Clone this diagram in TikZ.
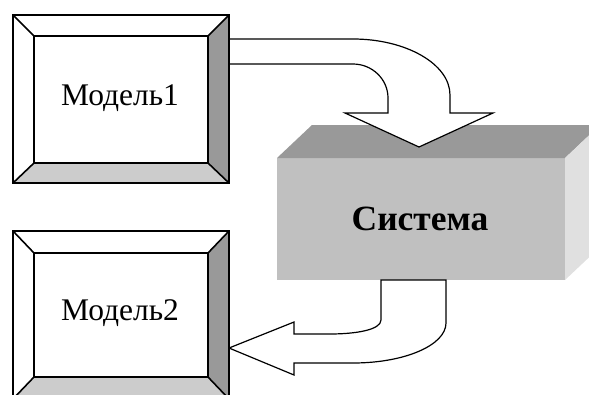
\documentclass[tikz,border=0pt]{standalone}
\usepackage{fontspec}
\setmainfont{Liberation Serif}
\definecolor{gA}{HTML}{999999}
\definecolor{gB}{HTML}{CCCCCC}
\definecolor{gFront}{HTML}{C0C0C0}
\definecolor{gTop}{HTML}{999999}
\definecolor{gSide}{HTML}{E0E0E0}
\begin{document}
\begin{tikzpicture}[x=1pt,y=-1pt,
  bev/.style={draw=black,line width=1.6pt,line join=miter},
  arr/.style={draw=black,fill=white,line width=1.2pt,line join=miter},
  lbl/.style={anchor=base,inner sep=0pt,font=\fontsize{31.5}{31.5}\selectfont}]
\useasboundingbox (0,0) rectangle (589,394);
\clip (0,0) rectangle (589,394);
% 3D system box
\fill[gFront] (277,158) rectangle (565,280);
\fill[gTop] (277,158) -- (312,125) -- (600,125) -- (565,158) -- cycle;
\fill[gSide] (565,158) -- (600,125) -- (600,247) -- (565,280) -- cycle;
\node[anchor=base,inner sep=0pt,font=\fontsize{35.5}{35.5}\selectfont\bfseries] (sys) at (420,230) {Система};
% top arrow
\draw[arr] (229,39) -- (353,39) .. controls (406,39) and (450,64) .. (450,95) -- (450,113) -- (493,113) -- (419,147) -- (345,113) -- (388,113) -- (388,98) .. controls (388,79) and (372,64) .. (353,64) -- (229,64) -- cycle;
% bottom arrow
\draw[arr] (381,280) -- (381,320) .. controls (381,330) and (355,334) .. (330,334) -- (294,334) -- (294,322) -- (229,348) -- (294,375) -- (294,363) -- (353,363) .. controls (405,363) and (446,345) .. (446,323) -- (446,280) -- cycle;
% box 1
\fill[white] (13,15) rectangle (229,183);
\fill[gA] (229,15) -- (229,183) -- (208,163) -- (208,36) -- cycle;
\fill[gB] (13,183) -- (229,183) -- (208,163) -- (34,163) -- cycle;
\draw[bev] (13,15) rectangle (229,183);
\draw[bev] (34,36) rectangle (208,163);
\draw[bev] (13,15) -- (34,36) (229,15) -- (208,36) (13,183) -- (34,163) (229,183) -- (208,163);
\node[lbl] (m1) at (120,105) {Модель1};
% box 2
\fill[white] (13,231) rectangle (229,399);
\fill[gA] (229,231) -- (229,399) -- (208,377) -- (208,253) -- cycle;
\fill[gB] (13,399) -- (229,399) -- (208,377) -- (34,377) -- cycle;
\draw[bev] (13,231) rectangle (229,399);
\draw[bev] (34,253) rectangle (208,377);
\draw[bev] (13,231) -- (34,253) (229,231) -- (208,253) (13,399) -- (34,377) (229,399) -- (208,377);
\node[lbl] (m2) at (120,320) {Модель2};
\end{tikzpicture}
\end{document}
